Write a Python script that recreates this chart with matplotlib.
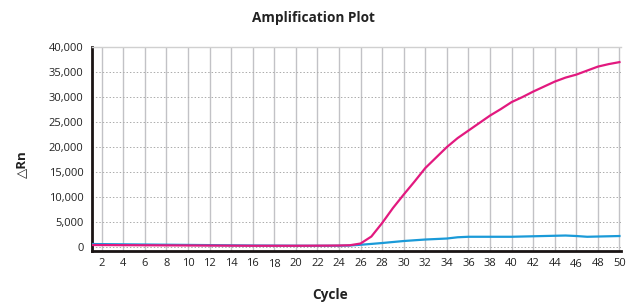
import numpy as np
import matplotlib
matplotlib.use("Agg")
import matplotlib.pyplot as plt
import matplotlib.transforms as mtransforms

plt.rcParams['font.family'] = ['Open Sans', 'DejaVu Sans']

# Ciclos e curvas de amplificação (Delta Rn)
ciclos = np.arange(1, 51)

amostra_rosa = [400, 390, 380, 370, 360, 350, 340, 330, 320, 310,
                300, 290, 280, 270, 260, 250, 250, 250, 250, 250,
                260, 270, 280, 300, 350, 700, 2100, 4800, 7800, 10500,
                13100, 15800, 17900, 20000, 21800, 23300, 24800, 26300, 27600, 29000,
                30000, 31100, 32100, 33100, 33900, 34500, 35300, 36100, 36600, 37000]

amostra_azul = [600, 580, 560, 540, 520, 500, 480, 460, 440, 420,
                400, 380, 360, 340, 320, 300, 290, 280, 270, 260,
                250, 250, 250, 260, 300, 450, 620, 800, 1000, 1200,
                1350, 1500, 1600, 1700, 1950, 2050, 2050, 2050, 2050, 2050,
                2100, 2150, 2200, 2250, 2300, 2200, 2050, 2100, 2150, 2200]

ticks_x = list(range(2, 51, 2))
ticks_y = list(range(0, 40001, 5000))

fig = plt.figure(figsize=(6.27, 3.04), dpi=100)
ax = fig.add_axes([0.1467, 0.1743, 0.843, 0.6707])

# grade
for c in ticks_x:
    ax.axvline(c, color='#c2c2c6', lw=1.0, zorder=1)
for v in ticks_y:
    ax.axhline(v, color='#ababab', lw=0.7, ls=(0, (1.5, 2)), zorder=1)

ax.plot(ciclos, amostra_azul, color='#1a9ad8', lw=1.6, zorder=3)
ax.plot(ciclos, amostra_rosa, color='#e2197f', lw=1.6, zorder=4)

ax.set_xlim(1.1, 50.1)
ax.set_ylim(-800, 40000)
ax.set_xticks(ticks_x)
ax.set_yticks(ticks_y)
ax.set_yticklabels([f"{v:,}" for v in ticks_y])
ax.tick_params(axis='both', length=0, labelsize=8, labelcolor='#222222')
ax.tick_params(axis='x', pad=5)
ax.tick_params(axis='y', pad=6)

ax.spines['left'].set_linewidth(2)
ax.spines['bottom'].set_linewidth(2)
ax.spines['left'].set_color('#1a1414')
ax.spines['bottom'].set_color('#1a1414')
ax.spines['top'].set_color('#d0d0d0')
ax.spines['top'].set_linewidth(1)
ax.spines['right'].set_visible(False)

# rótulos desalinhados como no original
deslocamento = mtransforms.ScaledTranslation(0, -1.5 / 100, fig.dpi_scale_trans)
for rotulo in ax.get_xticklabels():
    if rotulo.get_text() in ('18', '46'):
        rotulo.set_transform(rotulo.get_transform() + deslocamento)

fig.text(0.5, 0.94, "Amplification Plot", ha='center', va='center',
         fontsize=9.8, fontweight='bold', color='#222222')
fig.text(0.035, 0.46, "△Rn", ha='center', va='center', rotation=90,
         fontsize=9.5, fontweight='bold', color='#222222')
fig.text(0.527, 0.03, "Cycle", ha='center', va='center',
         fontsize=9.8, fontweight='bold', color='#222222')

fig.savefig("out.png", dpi=100)
